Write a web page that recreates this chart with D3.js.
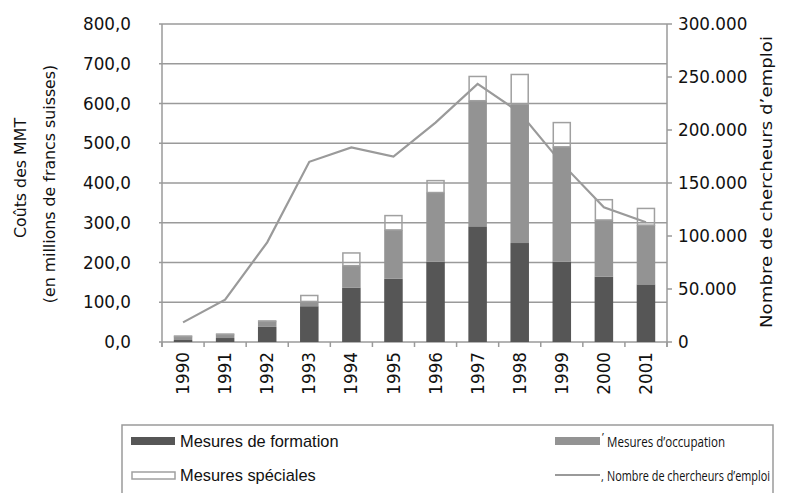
<!DOCTYPE html>
<html>
<head>
<meta charset="utf-8">
<script src="https://cdn.jsdelivr.net/npm/d3@7/dist/d3.min.js"></script>
<style>
  body { margin: 0; background: #fff; }
  svg { display: block; }
  .tick-lbl { font-family: 'DejaVu Sans', sans-serif; font-size: 16.8px; fill: #111; }
  .ax-title { font-family: 'DejaVu Sans', sans-serif; font-size: 15.8px; fill: #111; }
  .leg-lbl { font-family: 'Liberation Sans', Arial, sans-serif; font-size: 16.4px; fill: #111; }
  .leg-lbl2 { font-family: 'Liberation Sans Narrow', 'Open Sans', sans-serif; font-size: 14.8px; fill: #111; }
</style>
</head>
<body>
<svg id="chart"></svg>
<script>
const years = ['1990', '1991', '1992', '1993', '1994', '1995', '1996', '1997', '1998', '1999', '2000', '2001']
const formation = [5, 10, 38, 90, 137, 159, 202, 291, 249, 202, 164, 145]
const occupation = [9, 9, 14, 12, 55, 123, 174, 316, 349, 289, 143, 149]
const speciales = [1, 1, 1, 15, 32, 36, 30, 61, 75, 61, 51, 42]
const chercheurs = [18500, 40000, 94000, 170000, 183500, 175000, 207000, 243500, 216500, 168500, 127000, 113000]

const leftTicks = [0, 100, 200, 300, 400, 500, 600, 700, 800]
const rightTicks = [0, 50000, 100000, 150000, 200000, 250000, 300000]

const W = 795, H = 493
const m = { left: 162, right: 667, top: 24, bottom: 342 }
const grid = '#9a9a9a'

const svg = d3.select('#chart').attr('width', W).attr('height', H)

const x = d3.scaleBand().domain(years).range([m.left, m.right]).paddingInner(0.56).paddingOuter(0.28)
const yL = d3.scaleLinear().domain([0, 800]).range([m.bottom, m.top])
const yR = d3.scaleLinear().domain([0, 300000]).range([m.bottom, m.top])

const fmtL = d => d3.format('.1f')(d).replace('.', ',')
const fmtR = d => d3.format(',')(d).replace(/,/g, '.')

// gridlines + left labels
const gl = svg.append('g')
gl.selectAll('line').data(leftTicks).enter().append('line')
  .attr('x1', m.left - 3).attr('x2', m.right)
  .attr('y1', d => yL(d)).attr('y2', d => yL(d))
  .attr('stroke', grid).attr('stroke-width', 1.5)
gl.selectAll('text').data(leftTicks).enter().append('text')
  .attr('class', 'tick-lbl')
  .attr('x', 131).attr('y', d => yL(d)).attr('dy', '0.36em')
  .attr('text-anchor', 'end')
  .text(fmtL)

// axis lines
svg.append('line').attr('x1', m.left).attr('x2', m.left).attr('y1', m.top).attr('y2', m.bottom + 5)
  .attr('stroke', grid).attr('stroke-width', 1.5)
svg.append('line').attr('x1', m.right).attr('x2', m.right).attr('y1', m.top).attr('y2', m.bottom + 5)
  .attr('stroke', grid).attr('stroke-width', 1.5)

// x ticks at band boundaries
const step = x.step()
svg.append('g').selectAll('line').data(d3.range(years.length + 1)).enter().append('line')
  .attr('x1', i => m.left + i * step).attr('x2', i => m.left + i * step)
  .attr('y1', m.bottom).attr('y2', m.bottom + 5)
  .attr('stroke', grid).attr('stroke-width', 1.5)

// right ticks + labels
const gr = svg.append('g')
gr.selectAll('line').data(rightTicks).enter().append('line')
  .attr('x1', m.right).attr('x2', m.right + 5)
  .attr('y1', d => yR(d)).attr('y2', d => yR(d))
  .attr('stroke', grid).attr('stroke-width', 1.5)
gr.selectAll('text').data(rightTicks).enter().append('text')
  .attr('class', 'tick-lbl')
  .attr('x', 678).attr('y', d => yR(d)).attr('dy', '0.36em')
  .text(fmtR)

// line (drawn under the bars)
const lineGen = d3.line()
  .x((d, i) => x(years[i]) + x.bandwidth() / 2)
  .y(d => yR(d))
svg.append('path')
  .attr('d', lineGen(chercheurs))
  .attr('fill', 'none').attr('stroke', '#9a9a9a').attr('stroke-width', 2.2)

// stacked bars
const bars = svg.append('g')
years.forEach((yr, i) => {
  const f = formation[i], o = occupation[i], s = speciales[i]
  bars.append('rect')
    .attr('x', x(yr)).attr('width', x.bandwidth())
    .attr('y', yL(f)).attr('height', yL(0) - yL(f))
    .attr('fill', '#565656')
  bars.append('rect')
    .attr('x', x(yr)).attr('width', x.bandwidth())
    .attr('y', yL(f + o)).attr('height', yL(f) - yL(f + o))
    .attr('fill', '#939393')
  bars.append('rect')
    .attr('x', x(yr) + 0.75).attr('width', x.bandwidth() - 1.5)
    .attr('y', yL(f + o + s)).attr('height', yL(f + o) - yL(f + o + s))
    .attr('fill', 'none').attr('stroke', '#a0a0a0').attr('stroke-width', 1.5)
})

// year labels
svg.append('g').selectAll('text').data(years).enter().append('text')
  .attr('class', 'tick-lbl')
  .attr('transform', d => `translate(${x(d) + x.bandwidth() / 2},352) rotate(-90)`)
  .attr('dy', '0.36em')
  .attr('text-anchor', 'end')
  .text(d => d)

// axis titles
svg.append('text').attr('class', 'ax-title')
  .attr('transform', 'translate(26,178) rotate(-90)')
  .attr('text-anchor', 'middle')
  .text('Coûts des MMT')
svg.append('text').attr('class', 'ax-title')
  .attr('transform', 'translate(55,184) rotate(-90)')
  .attr('text-anchor', 'middle')
  .text('(en millions de francs suisses)')
svg.append('text').attr('class', 'ax-title')
  .attr('transform', 'translate(772,182) rotate(-90)')
  .attr('text-anchor', 'middle')
  .style('font-size', '16.5px')
  .attr('textLength', 292).attr('lengthAdjust', 'spacingAndGlyphs')
  .text('Nombre de chercheurs d’emploi')

// legend
svg.append('rect')
  .attr('x', 122).attr('y', 425).attr('width', 651).attr('height', 90)
  .attr('fill', 'none').attr('stroke', '#9a9a9a').attr('stroke-width', 1.5)

const leg = svg.append('g')
leg.append('rect').attr('x', 131).attr('y', 437).attr('width', 44).attr('height', 8).attr('fill', '#565656')
leg.append('text').attr('class', 'leg-lbl').attr('x', 180).attr('y', 447).text('Mesures de formation')
leg.append('rect').attr('x', 555).attr('y', 437).attr('width', 45).attr('height', 8).attr('fill', '#939393')
leg.append('text').attr('class', 'leg-lbl2').attr('x', 602).attr('y', 441).style('font-size', '11px').text('’')
leg.append('text').attr('class', 'leg-lbl2').attr('x', 607).attr('y', 447)
  .attr('textLength', 118).attr('lengthAdjust', 'spacingAndGlyphs')
  .text('Mesures d’occupation')
leg.append('rect').attr('x', 132).attr('y', 472).attr('width', 43).attr('height', 7)
  .attr('fill', 'none').attr('stroke', '#a0a0a0').attr('stroke-width', 1.5)
leg.append('text').attr('class', 'leg-lbl').attr('x', 180).attr('y', 481).text('Mesures spéciales')
leg.append('line').attr('x1', 555).attr('x2', 600).attr('y1', 475).attr('y2', 475)
  .attr('stroke', '#9a9a9a').attr('stroke-width', 2)
leg.append('text').attr('class', 'leg-lbl2').attr('x', 601).attr('y', 481).style('font-size', '11px').text(',')
leg.append('text').attr('class', 'leg-lbl2').attr('x', 607).attr('y', 481)
  .attr('textLength', 163).attr('lengthAdjust', 'spacingAndGlyphs')
  .text('Nombre de chercheurs d’emploi')
</script>
</body>
</html>
